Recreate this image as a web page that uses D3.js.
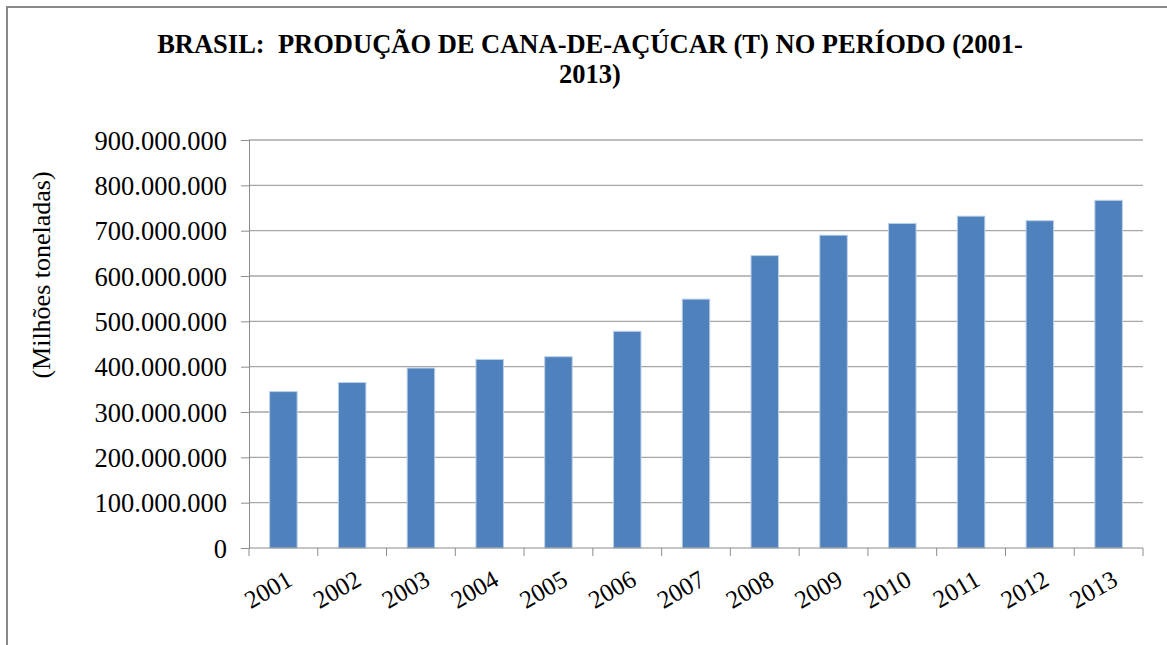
<!DOCTYPE html>
<meta charset="utf-8">
<head>
    <title>Produção de cana-de-açúcar</title>
    <style>
        html, body {
            margin: 0;
            padding: 0;
            background: #fff;
        }

        svg, svg text {
            display: block;
            font-family: "Liberation Serif", "Times New Roman", serif !important;
        }

        .title {
            font-weight: bold;
            font-size: 26.5px;
            fill: #000;
            white-space: pre;
        }

        .axis text {
            font-size: 25px;
            fill: #000;
        }

        .axis.y text {
            font-size: 26.5px;
        }

        .axis path, .axis line {
            stroke: #8c8c8c;
        }

        .grid line {
            stroke: #a6a6a6;
            stroke-width: 1.3;
        }

        .bar {
            fill: #4f81bd;
            stroke: #bcd0e8;
            stroke-width: 1;
        }
    </style>
</head>
<body>
    <svg width="1167" height="645"></svg>
    <script src="https://cdn.jsdelivr.net/npm/d3@7"></script>
    <script>
        // dados (toneladas)
        const anos = ['2001', '2002', '2003', '2004', '2005', '2006', '2007',
                      '2008', '2009', '2010', '2011', '2012', '2013'];
        const producao = [345000000, 365000000, 397000000, 416000000, 422000000,
                          478000000, 549000000, 645000000, 690000000, 716000000,
                          732000000, 722000000, 767000000];
        const yTicks = [0, 100000000, 200000000, 300000000, 400000000,
                        500000000, 600000000, 700000000, 800000000, 900000000];
        const tituloLinhas = ['BRASIL:  PRODUÇÃO DE CANA-DE-AÇÚCAR (T) NO PERÍODO (2001-', '2013)'];
        const yTitulo = '(Milhões toneladas)';

        const svg = d3.select('svg');

        const plot = {left: 249, right: 1143, top: 140, bottom: 548};

        const x = d3.scaleBand()
                    .domain(anos)
                    .range([plot.left, plot.right])
                    .paddingInner(0.6)
                    .paddingOuter(0.3);

        const y = d3.scaleLinear()
                    .domain([0, 900000000])
                    .range([plot.bottom, plot.top]);

        const br = d3.formatLocale({decimal: ',', thousands: '.', grouping: [3], currency: ['', '']});
        const fmt = br.format(',');

        // moldura
        svg.append('path')
            .attr('d', 'M7,645 V7 H1167')
            .attr('fill', 'none')
            .attr('stroke', '#8a8a8a')
            .attr('stroke-width', 2);

        // título
        svg.append('text')
            .attr('class', 'title')
            .attr('text-anchor', 'middle')
            .selectAll('tspan')
            .data(tituloLinhas)
            .enter()
            .append('tspan')
            .attr('x', 590)
            .attr('y', (d, i) => 53 + i * 30)
            .text(d => d);

        // grade
        svg.append('g')
            .attr('class', 'grid')
            .selectAll('line')
            .data(yTicks.filter(d => d > 0))
            .enter()
            .append('line')
            .attr('x1', plot.left)
            .attr('x2', plot.right)
            .attr('y1', d => y(d))
            .attr('y2', d => y(d));

        // barras
        svg.append('g')
            .selectAll('rect')
            .data(producao)
            .enter()
            .append('rect')
            .attr('class', 'bar')
            .attr('x', (d, i) => x(anos[i]))
            .attr('width', x.bandwidth())
            .attr('y', d => y(d))
            .attr('height', d => y(0) - y(d));

        // eixo y
        const yAxis = svg.append('g')
            .attr('class', 'axis y')
            .attr('transform', 'translate(' + plot.left + ',0)')
            .call(d3.axisLeft(y).tickValues(yTicks).tickFormat(fmt).tickSize(8).tickPadding(14));
        yAxis.selectAll('text').attr('dy', '0.34em');

        // eixo x com marcas entre as categorias
        const bordas = d3.range(anos.length + 1).map(i => plot.left + i * (plot.right - plot.left) / anos.length);
        const xAxis = svg.append('g').attr('class', 'axis');
        xAxis.append('line')
            .attr('x1', plot.left).attr('x2', plot.right)
            .attr('y1', plot.bottom).attr('y2', plot.bottom);
        xAxis.selectAll('line.tick')
            .data(bordas)
            .enter()
            .append('line')
            .attr('class', 'tick')
            .attr('x1', d => d).attr('x2', d => d)
            .attr('y1', plot.bottom).attr('y2', plot.bottom + 8);
        xAxis.selectAll('text')
            .data(anos)
            .enter()
            .append('text')
            .attr('text-anchor', 'end')
            .attr('transform', d => 'translate(' + (x(d) + x.bandwidth() / 2 + 2) + ',' + (plot.bottom + 21) + ') rotate(-30)')
            .attr('dy', '0.7em')
            .text(d => d);

        // título do eixo y
        svg.append('text')
            .attr('transform', 'translate(50,275) rotate(-90)')
            .attr('text-anchor', 'middle')
            .style('font-size', '26px')
            .style('fill', '#000')
            .text(yTitulo);
    </script>
</body>
</html>
